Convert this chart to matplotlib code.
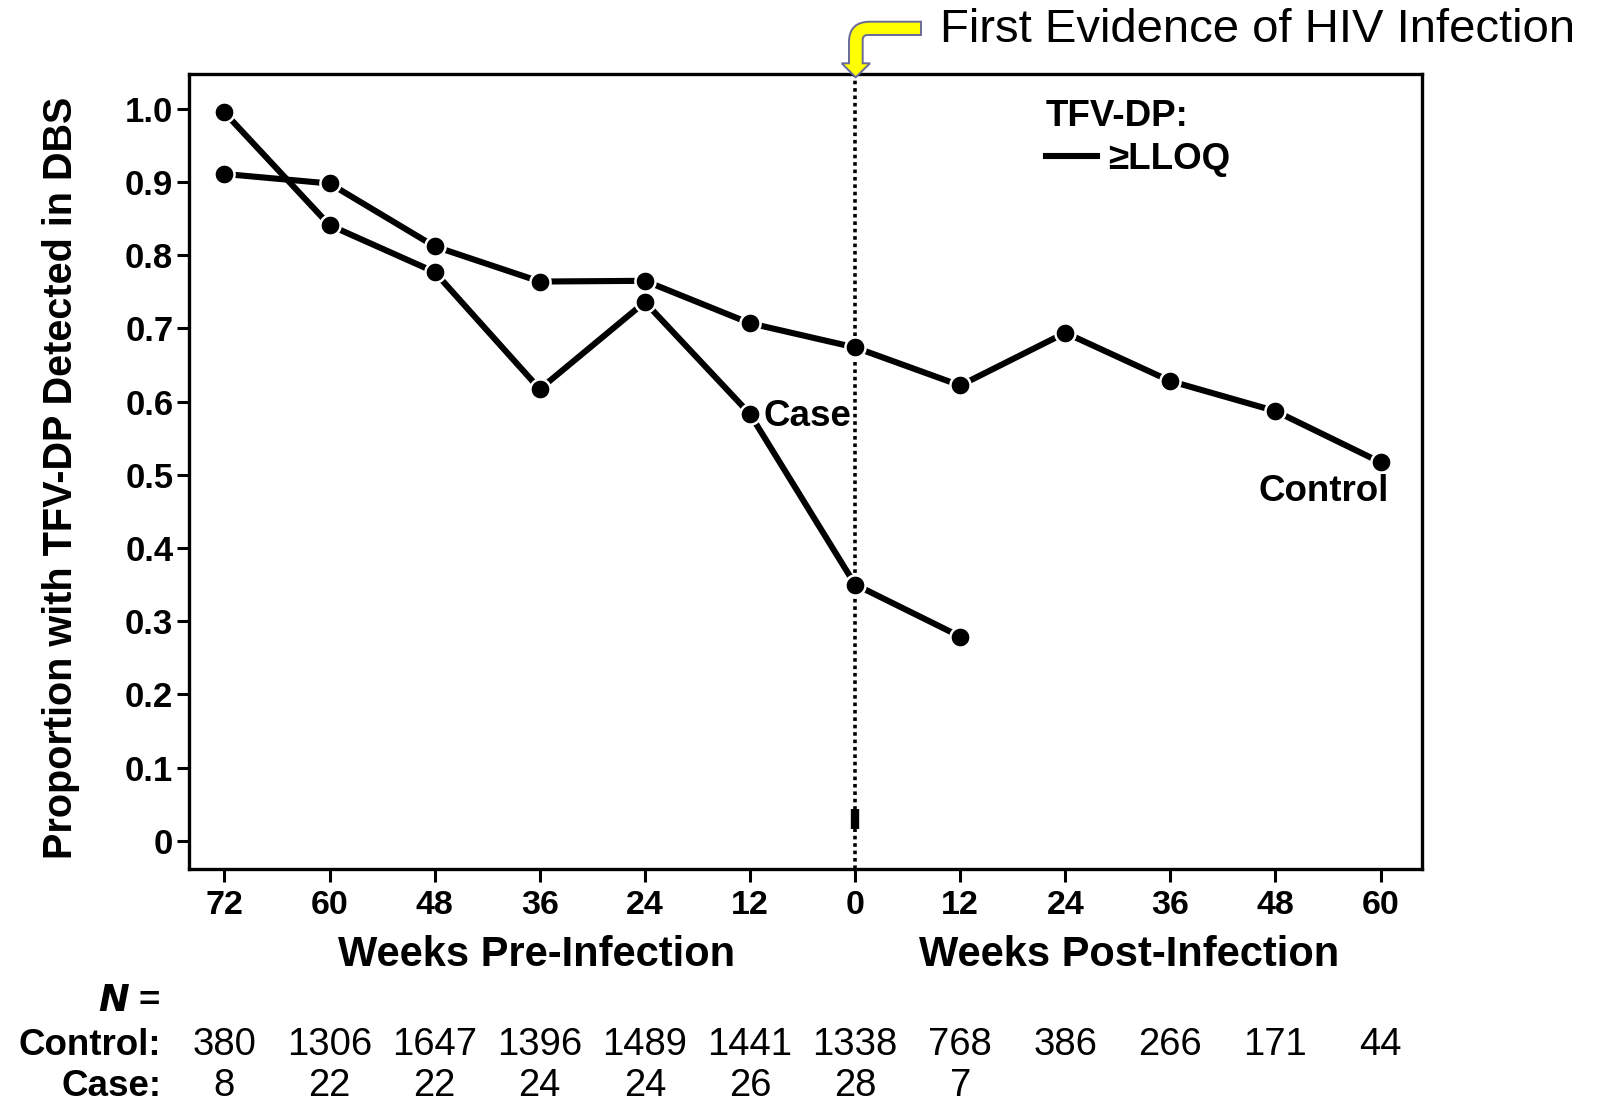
import matplotlib
matplotlib.use("Agg")
import matplotlib.pyplot as plt
from matplotlib.lines import Line2D
from matplotlib.patches import PathPatch
from matplotlib.path import Path
import matplotlib.transforms as mtransforms

plt.rcParams['font.family'] = ['Liberation Sans', 'DejaVu Sans']

# ==============================================
weeks = [-72, -60, -48, -36, -24, -12, 0, 12, 24, 36, 48, 60]
week_labels = ["72", "60", "48", "36", "24", "12", "0", "12", "24", "36", "48", "60"]

case_weeks = [-72, -60, -48, -36, -24, -12, 0, 12]
case_prop = [0.995, 0.841, 0.777, 0.617, 0.736, 0.583, 0.350, 0.279]
control_prop = [0.911, 0.898, 0.812, 0.764, 0.765, 0.707, 0.674, 0.622, 0.694, 0.628, 0.587, 0.517]

control_n = [380, 1306, 1647, 1396, 1489, 1441, 1338, 768, 386, 266, 171, 44]
case_n = [8, 22, 22, 24, 24, 26, 28, 7]

y_ticks = [0, 0.1, 0.2, 0.3, 0.4, 0.5, 0.6, 0.7, 0.8, 0.9, 1.0]
y_ticklabels = ["0", "0.1", "0.2", "0.3", "0.4", "0.5", "0.6", "0.7", "0.8", "0.9", "1.0"]

# stray mark on the infection line near the bottom
stray_week, stray_prop = [0], [0.03]

# ==============================================
W, H = 1598, 1101
fig = plt.figure(figsize=(W / 100, H / 100), dpi=100)
ax = fig.add_axes([0.118, 0.2105, 0.7717, 0.7219])

line_kw = dict(color="black", lw=4.4, marker="o", ms=14.5,
               mfc="black", mec="white", mew=1.8, solid_capstyle="butt")
ax.plot(weeks, control_prop, **line_kw, zorder=3)
ax.plot(case_weeks, case_prop, **line_kw, zorder=4)

ax.axvline(0, color="black", lw=2.6, linestyle=(0, (1, 1.05)), zorder=2)
ax.plot(stray_week, stray_prop, marker="|", ms=14, mew=6, color="black", ls="none")

ax.set_xlim(-76.1, 64.7)
ax.set_ylim(-0.039, 1.047)

ax.set_xticks(weeks, labels=week_labels)
ax.set_yticks(y_ticks, labels=y_ticklabels)
for lab in ax.get_xticklabels():
    lab.set_fontsize(24.5)
    lab.set_fontweight("bold")
for lab in ax.get_yticklabels():
    lab.set_fontsize(25)
    lab.set_fontweight("bold")
ax.tick_params(axis="x", length=9, width=2.2, pad=6)
ax.tick_params(axis="y", length=9, width=2.2, pad=2)
for sp in ax.spines.values():
    sp.set_linewidth(2.4)

ax.set_ylabel("Proportion with TFV-DP Detected in DBS", fontsize=28.5,
              fontweight="bold")
ax.yaxis.set_label_coords(-0.0884, 0.492)

# x labels for the two halves
trans_xfig = mtransforms.blended_transform_factory(ax.transData, fig.transFigure)
ax.text(-36.4, 0.1326, "Weeks Pre-Infection", transform=trans_xfig, ha="center",
        va="center", fontsize=30, fontweight="bold")
ax.text(31.3, 0.1326, "Weeks Post-Infection", transform=trans_xfig, ha="center",
        va="center", fontsize=30, fontweight="bold")

# series labels
ax.text(case_weeks[5] + 1.6, case_prop[5] - 0.004, "Case", fontsize=26.5,
        fontweight="bold", ha="left", va="center")
ax.text(weeks[-1] - 6.5, control_prop[-1] - 0.04, "Control", fontsize=26.5,
        fontweight="bold", ha="center", va="center")

# legend
handle = Line2D([], [], color="black", lw=4.4)
leg = ax.legend([handle], ["\u2265LLOQ"], title="TFV-DP:", loc="upper left",
                bbox_to_anchor=(0.695, 0.969), frameon=False, borderpad=0,
                borderaxespad=0, handlelength=1.4, handletextpad=0.3,
                labelspacing=0.22, alignment="left",
                prop=dict(size=26.5, weight="bold"),
                title_fontproperties=dict(size=26.5, weight="bold"))

# N table
fig.text(0.1008, 0.0905, "$\\bfit{N}$ =", ha="right", va="center", fontsize=26.5,
         fontweight="bold")
fig.text(0.1008, 0.0505, "Control:", ha="right", va="center", fontsize=26.5,
         fontweight="bold")
fig.text(0.1008, 0.0135, "Case:", ha="right", va="center", fontsize=26.5,
         fontweight="bold")
for w, n in zip(weeks, control_n):
    ax.text(w, 0.0505, str(n), transform=trans_xfig, ha="center", va="center",
            fontsize=27.5)
for w, n in zip(case_weeks, case_n):
    ax.text(w, 0.0135, str(n), transform=trans_xfig, ha="center", va="center",
            fontsize=27.5)

# bent yellow arrow pointing at week 0 (outline in pixel units, top-left origin)
arrow_pts = [(921, 21.7), (870, 21.7), (849, 21.7), (849, 42), (849, 63.3),
             (841.7, 63.3), (855.7, 77.3), (870, 63.3), (862.7, 63.3), (862.7, 40),
             (862.7, 35), (867.7, 35), (921, 35), (921, 21.7)]
arrow_codes = [Path.MOVETO, Path.LINETO, Path.CURVE3, Path.CURVE3, Path.LINETO,
               Path.LINETO, Path.LINETO, Path.LINETO, Path.LINETO, Path.LINETO,
               Path.CURVE3, Path.CURVE3, Path.LINETO, Path.CLOSEPOLY]
arrow_path = Path([(x / W, 1 - y / H) for x, y in arrow_pts], arrow_codes)
fig.patches.append(PathPatch(arrow_path, transform=fig.transFigure, facecolor="#ffff00",
                             edgecolor="#6a6a9a", lw=1.4, clip_on=False))
fig.text(0.5885, 0.9725, "First Evidence of HIV Infection", ha="left", va="center",
         fontsize=34)

plt.savefig("out.png", dpi=100)
